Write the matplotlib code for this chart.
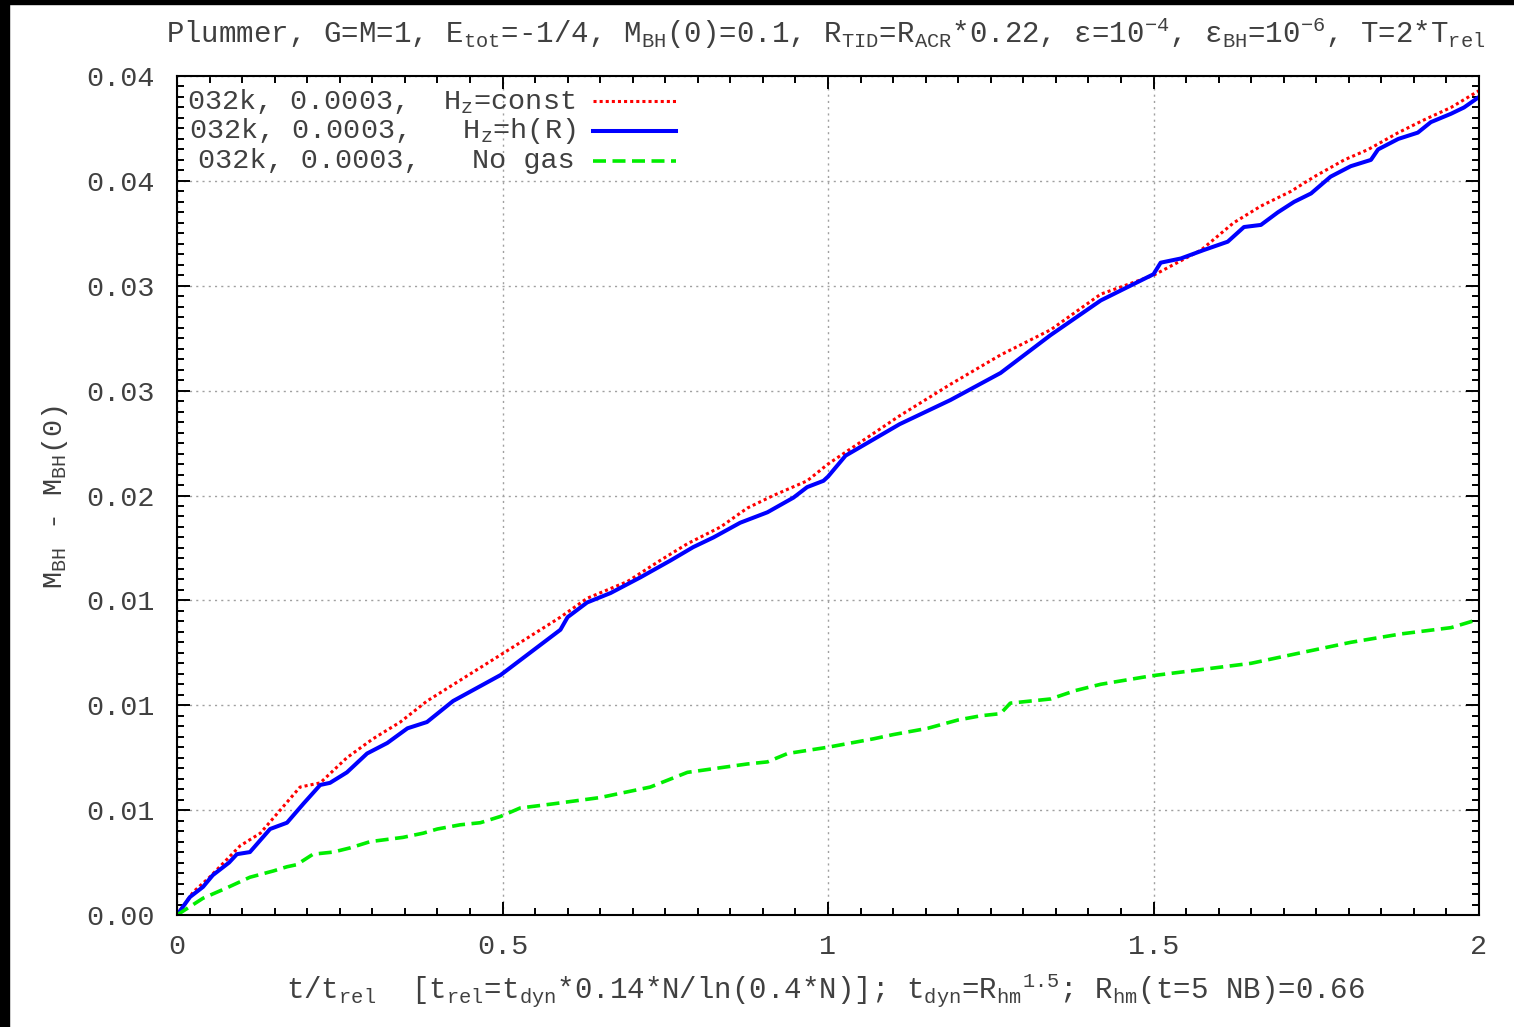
import matplotlib
matplotlib.use("Agg")
import matplotlib.pyplot as plt
from matplotlib.lines import Line2D
from matplotlib.patches import Rectangle
from matplotlib.ticker import MultipleLocator, FixedLocator, FixedFormatter

plt.rcParams["font.family"] = ["Liberation Mono", "DejaVu Sans Mono"]
plt.rcParams["mathtext.fontset"] = "custom"
plt.rcParams["mathtext.rm"] = "Liberation Mono"
plt.rcParams["mathtext.it"] = "Liberation Mono"
plt.rcParams["mathtext.bf"] = "Liberation Mono:bold"
plt.rcParams["mathtext.default"] = "rm"

FS = 20.5
FS_TICK = 20.5
TXT = "#404040"

# H_z = const (red dotted)
t_const = [0, 0.025, 0.05, 0.097, 0.128, 0.189, 0.22, 0.261, 0.301, 0.343, 0.384,
           0.497, 0.589, 0.63, 0.692, 0.742, 0.784, 0.835, 0.876, 0.916, 0.968, 1.0,
           1.11, 1.188, 1.265, 1.342, 1.419, 1.5, 1.573, 1.623, 1.665, 1.711, 1.747,
           1.793, 1.83, 1.876, 1.915, 1.957, 2.0]
m_const = [0, 0.0011, 0.0018, 0.0033, 0.0039, 0.0061, 0.0063, 0.0075, 0.0084, 0.0092, 0.0102,
           0.0124, 0.0142, 0.0151, 0.0159, 0.0169, 0.0177, 0.0185, 0.0194, 0.0200, 0.0207, 0.0215,
           0.0238, 0.0253, 0.0267, 0.0279, 0.0296, 0.0305, 0.0317, 0.0330, 0.0338, 0.0345, 0.0352,
           0.0360, 0.0365, 0.0373, 0.0379, 0.0385, 0.0393]

# H_z = h(R) (blue solid)
t_hr = [0, 0.02, 0.04, 0.055, 0.08, 0.092, 0.112, 0.143, 0.169, 0.194, 0.22, 0.235, 0.261,
        0.292, 0.323, 0.354, 0.384, 0.424, 0.497, 0.589, 0.6, 0.63, 0.666, 0.712, 0.758,
        0.793, 0.824, 0.865, 0.907, 0.947, 0.968, 0.993, 1.0, 1.027, 1.11, 1.188, 1.265,
        1.342, 1.419, 1.5, 1.511, 1.542, 1.577, 1.614, 1.639, 1.665, 1.691, 1.716, 1.742,
        1.772, 1.803, 1.834, 1.845, 1.876, 1.906, 1.926, 1.957, 1.977, 2.0]
m_hr = [0, 0.00086, 0.00134, 0.0019, 0.0025, 0.0029, 0.0030, 0.0041, 0.0044, 0.0053, 0.0062,
        0.0063, 0.0068, 0.0077, 0.0082, 0.0089, 0.0092, 0.0102, 0.01144, 0.0136, 0.0142,
        0.0149, 0.01535, 0.0161, 0.0169, 0.01754, 0.0180, 0.0187, 0.0192, 0.0199, 0.0204,
        0.0207, 0.0209, 0.0219, 0.0234, 0.02455, 0.02584, 0.02765, 0.0293, 0.03055, 0.0311,
        0.0313, 0.0317, 0.0321, 0.0328, 0.0329, 0.0335, 0.0340, 0.0344, 0.0352, 0.0357,
        0.0360, 0.0365, 0.0370, 0.0373, 0.0378, 0.0382, 0.0385, 0.0390]

# No gas (green dashed)
t_nogas = [0, 0.015, 0.04, 0.077, 0.112, 0.148, 0.169, 0.184, 0.209, 0.24, 0.266, 0.297,
           0.347, 0.378, 0.4, 0.435, 0.466, 0.497, 0.527, 0.578, 0.65, 0.727, 0.784, 0.876,
           0.907, 0.938, 1.0, 1.07, 1.1, 1.153, 1.2, 1.235, 1.265, 1.28, 1.342, 1.38, 1.419,
           1.496, 1.573, 1.65, 1.726, 1.803, 1.88, 1.957, 2.0]
m_nogas = [0, 0.0003, 0.0008, 0.0013, 0.0018, 0.0021, 0.0023, 0.0024, 0.0029, 0.0030, 0.0032,
           0.0035, 0.0037, 0.0039, 0.0041, 0.0043, 0.0044, 0.0047, 0.0051, 0.0053, 0.0056,
           0.0061, 0.0068, 0.0072, 0.0073, 0.0077, 0.0080, 0.0084, 0.0086, 0.0089, 0.0093,
           0.0095, 0.0096, 0.0101, 0.0103, 0.0107, 0.0110, 0.0114, 0.0117, 0.0120, 0.0125,
           0.0130, 0.0134, 0.0137, 0.0141]

x_ticks = [0, 0.5, 1, 1.5, 2]
x_tick_labels = ["0", "0.5", "1", "1.5", "2"]
y_ticks = [0, 0.005, 0.01, 0.015, 0.02, 0.025, 0.03, 0.035, 0.04]
y_tick_labels = ["0.00", "0.01", "0.01", "0.01", "0.02", "0.03", "0.03", "0.04", "0.04"]

series = [
    ("032k, 0.0003,  H$_z$=const", t_const, m_const, "#ff0000", 2.2, (0, (1, 1))),
    ("032k, 0.0003,   H$_z$=h(R)", t_hr, m_hr, "#0000ff", 2.9, "-"),
    ("032k, 0.0003,   No gas", t_nogas, m_nogas, "#00ee00", 2.6, (0, (3.6, 1.8))),
]

W, H = 1514, 1027
fig = plt.figure(figsize=(W / 100, H / 100), dpi=100)
ax = fig.add_axes([177 / W, 1 - 915 / H, (1479 - 177) / W, (915 - 76) / H])

for label, t, m, color, lw, ls in series:
    ax.plot(t, m, color=color, lw=lw, linestyle=ls, dash_capstyle="butt")

ax.set_xlim(0, 2)
ax.set_ylim(0, 0.04)
ax.xaxis.set_major_locator(FixedLocator(x_ticks))
ax.xaxis.set_major_formatter(FixedFormatter(x_tick_labels))
ax.yaxis.set_major_locator(FixedLocator(y_ticks))
ax.yaxis.set_major_formatter(FixedFormatter(y_tick_labels))
ax.xaxis.set_minor_locator(MultipleLocator(0.05))
ax.yaxis.set_minor_locator(MultipleLocator(0.0005))

ax.tick_params(which="both", direction="in", top=True, right=True, width=1.4,
               colors="black", labelcolor=TXT, labelsize=FS_TICK)
ax.tick_params(which="major", length=9.5)
ax.tick_params(which="minor", length=5)
ax.tick_params(axis="x", which="major", pad=14)
ax.tick_params(axis="y", which="major", pad=16)
for sp in ax.spines.values():
    sp.set_linewidth(1.5)

ax.grid(True, which="major", color="#a0a0a0", linestyle=(0, (1.5, 3)), lw=1.0)

# legend, gnuplot style: right-justified text followed by the sample
rows_y = [0.970, 0.934, 0.899]
for (label, t, m, color, lw, ls), yy in zip(series, rows_y):
    ax.text(0.3057, yy, label, transform=ax.transAxes, ha="right", va="center",
            fontsize=FS, color=TXT)
    ax.add_line(Line2D([0.3195, 0.3833], [yy, yy], transform=ax.transAxes,
                       color=color, lw=lw, linestyle=ls, dash_capstyle="butt"))

fig.text(826 / W, 1 - 33 / H,
         "Plummer, G=M=1, E$_{tot}$=-1/4, M$_{BH}$(0)=0.1, R$_{TID}$=R$_{ACR}$*0.22, "
         "ε=10$^{-4}$, ε$_{BH}$=10$^{-6}$, T=2*T$_{rel}$",
         ha="center", va="center", fontsize=FS + 0.5, color=TXT)
fig.text(826 / W, 1 - 990 / H,
         "t/t$_{rel}$  [t$_{rel}$=t$_{dyn}$*0.14*N/ln(0.4*N)]; t$_{dyn}$=R$_{hm}$$^{1.5}$; "
         "R$_{hm}$(t=5 NB)=0.66",
         ha="center", va="center", fontsize=FS + 0.5, color=TXT)
fig.text(55 / W, 1 - 497 / H, "M$_{BH}$ - M$_{BH}$(0)", rotation=90,
         ha="center", va="center", fontsize=FS, color=TXT)

# dark frame strips at the left and top edges of the picture
fig.patches.append(Rectangle((0, 0), 9 / W, 1, transform=fig.transFigure,
                             color="black", zorder=-1))
fig.patches.append(Rectangle((0, 1 - 4 / H), 1, 4 / H, transform=fig.transFigure,
                             color="black", zorder=-1))

fig.savefig("out.png", dpi=100, facecolor="white")
